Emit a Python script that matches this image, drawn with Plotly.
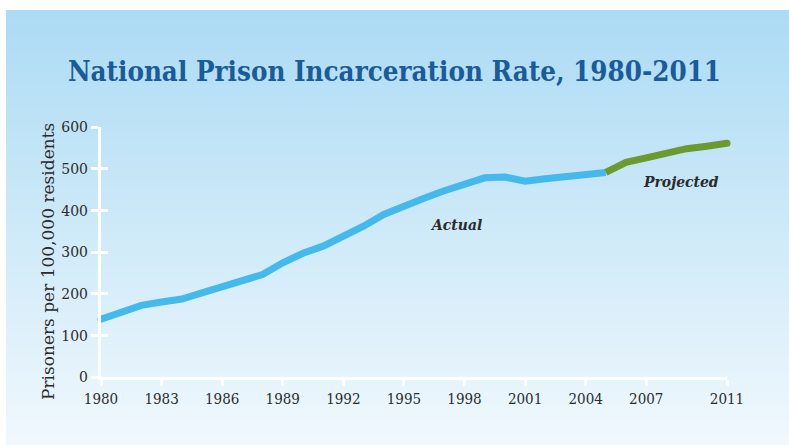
import plotly.graph_objects as go

# ---- data ----
actual_years = list(range(1980, 2006))
actual_rate = [139, 155, 172, 180, 187, 202, 216, 230, 246, 274, 297, 314, 336,
               362, 390, 411, 429, 447, 464, 478, 480, 470, 476, 481, 486, 491]
proj_years = list(range(2005, 2012))
proj_rate = [491, 515, 526, 537, 548, 554, 561]
x_tick_vals = [1980, 1983, 1986, 1989, 1992, 1995, 1998, 2001, 2004, 2007, 2011]
y_tick_vals = [0, 100, 200, 300, 400, 500, 600]

W, H = 789, 445
ML, MR, MT, MB = 101, 62, 127, 68
pw, ph = W - ML - MR, H - MT - MB

SERIF = "DejaVu Serif Condensed, DejaVu Serif, serif"
BLUE = "#45b8ec"
GREEN = "#6b9a30"
TXT = "#2b2b2b"

fig = go.Figure()

fig.add_trace(go.Scatter(x=actual_years, y=actual_rate, mode="lines",
                         line=dict(color=BLUE, width=7),
                         hoverinfo="skip", showlegend=False))
fig.add_trace(go.Scatter(x=proj_years, y=proj_rate, mode="lines",
                         line=dict(color=GREEN, width=7),
                         hoverinfo="skip", showlegend=False))
# round caps at the two ends of the series
fig.add_trace(go.Scatter(x=[actual_years[0]], y=[actual_rate[0]], mode="markers",
                         marker=dict(color=BLUE, size=7, line=dict(width=0)),
                         cliponaxis=False, hoverinfo="skip", showlegend=False))
fig.add_trace(go.Scatter(x=[proj_years[-1]], y=[proj_rate[-1]], mode="markers",
                         marker=dict(color=GREEN, size=7, line=dict(width=0)),
                         cliponaxis=False, hoverinfo="skip", showlegend=False))
# helper trace for overlay axes (inside ticks)
fig.add_trace(go.Scatter(x=[], y=[], xaxis="x2", yaxis="y2", showlegend=False, hoverinfo="skip"))

# gradient background stripes
shapes = []
top_px, left_px = 10, 6
n = 145
c0 = (172, 219, 244)
c1 = (240, 248, 253)
step = (H - top_px) / n
for i in range(n):
    t = i / (n - 1)
    col = tuple(round(c0[k] + (c1[k] - c0[k]) * t) for k in range(3))
    y0px = top_px + i * step
    y1px = y0px + step + 0.6
    shapes.append(dict(type="rect", xref="paper", yref="paper", layer="below",
                       x0=(left_px - ML) / pw, x1=(W + 2 - ML) / pw,
                       y0=1 - (y1px - MT) / ph, y1=1 - (y0px - MT) / ph,
                       fillcolor="rgb(%d,%d,%d)" % col, line=dict(width=0)))

axis_common = dict(showgrid=False, zeroline=False, linecolor="white", linewidth=3,
                   tickcolor="white", tickwidth=3)

fig.update_layout(
    template="none",
    width=W, height=H,
    margin=dict(l=ML, r=MR, t=MT, b=MB),
    paper_bgcolor="white", plot_bgcolor="rgba(0,0,0,0)",
    shapes=shapes,
    title=dict(text="<b>National Prison Incarceration Rate, 1980-2011</b>",
               x=0.5, xref="container", xanchor="center",
               y=1 - 71 / H, yref="container", yanchor="middle",
               font=dict(family=SERIF, size=27.5, color="#1a5b98")),
    xaxis=dict(range=[1980, 2011], tickvals=x_tick_vals, ticks="outside", ticklen=6,
               showline=True, tickfont=dict(family=SERIF, size=15, color=TXT),
               **axis_common),
    yaxis=dict(range=[0, 600], tickvals=y_tick_vals, ticks="outside", ticklen=7,
               showline=True, tickfont=dict(family=SERIF, size=15.5, color=TXT),
               **axis_common),
    xaxis2=dict(range=[1980, 2011], overlaying="x", tickvals=[2011], ticks="inside",
                ticklen=6, showline=False, showticklabels=False, showgrid=False,
                zeroline=False, tickcolor="white", tickwidth=3),
    yaxis2=dict(range=[0, 600], overlaying="y", tickvals=y_tick_vals, ticks="inside",
                ticklen=7, showline=False, showticklabels=False, showgrid=False,
                zeroline=False, tickcolor="white", tickwidth=3, side="left"),
    annotations=[
        dict(text="Prisoners per 100,000 residents", xref="paper", yref="paper",
             x=(48 - ML) / pw, y=1 - (262 - MT) / ph, textangle=-90, showarrow=False,
             xanchor="center", yanchor="middle",
             font=dict(family="DejaVu Serif, serif", size=17, color=TXT)),
        dict(text="<b><i>Actual</i></b>", x=1997.56, y=365, showarrow=False,
             xanchor="center", yanchor="middle",
             font=dict(family=SERIF, size=15.5, color=TXT)),
        dict(text="<b><i>Projected</i></b>", x=2008.7, y=468.6, showarrow=False,
             xanchor="center", yanchor="middle",
             font=dict(family=SERIF, size=15.5, color=TXT)),
    ],
)

fig.write_html("out.html", config={"displayModeBar": False},
               post_script="document.body.style.margin='0';")
